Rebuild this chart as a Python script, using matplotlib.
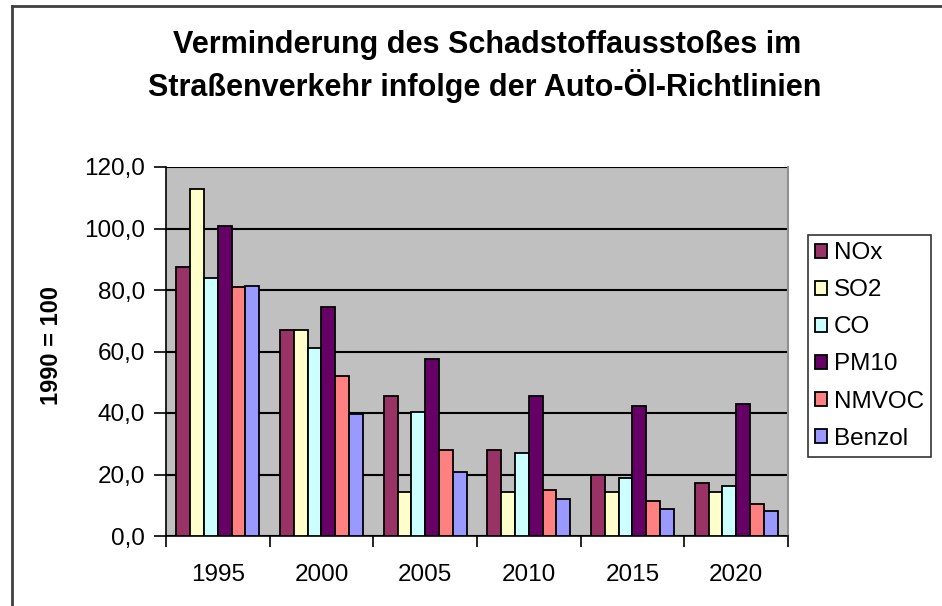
import numpy as np
import matplotlib
matplotlib.use('Agg')
import matplotlib.pyplot as plt
from matplotlib.lines import Line2D

plt.rcParams['font.family'] = ['Liberation Sans', 'DejaVu Sans']

# Daten (1990 = 100)
jahre = ['1995', '2000', '2005', '2010', '2015', '2020']
stoffe = ['NOx', 'SO2', 'CO', 'PM10', 'NMVOC', 'Benzol']
nox = [87.4, 67.0, 45.6, 28.1, 19.8, 17.1]
so2 = [112.7, 67.0, 14.4, 14.4, 14.4, 14.4]
co = [84.0, 61.1, 40.4, 26.9, 19.0, 16.3]
pm10 = [100.9, 74.4, 57.4, 45.6, 42.4, 43.0]
nmvoc = [80.9, 52.1, 28.1, 15.1, 11.3, 10.5]
benzol = [81.4, 39.7, 20.9, 11.9, 8.7, 8.1]
y_ticks = [0, 20, 40, 60, 80, 100, 120]

farben = ['#993366', '#FFFFCC', '#CCFFFF', '#660066', '#FF8080', '#9999FF']
reihen = [nox, so2, co, pm10, nmvoc, benzol]

fig = plt.figure(figsize=(9.42, 6.06), dpi=100)
ax = fig.add_axes([166/942, 1-536/606, (788-166)/942, (536-167)/606])
ax.set_facecolor('#C0C0C0')

x = np.arange(len(jahre))
b = 0.8/len(stoffe)
for i in range(len(stoffe)):
    ax.bar(x - 0.4 + b*(i+0.5), reihen[i], b, color=farben[i],
           edgecolor='black', linewidth=1.3, label=stoffe[i], zorder=3)

ax.set_xlim(-0.5, len(jahre)-0.5)
ax.set_ylim(0, 120)
ax.set_yticks(y_ticks)
ax.set_yticklabels([('%.1f' % v).replace('.', ',') for v in y_ticks])
ax.yaxis.grid(True, color='black', linewidth=1.5, zorder=1)
ax.set_axisbelow(True)

# x-Ticks zwischen den Kategorien, Beschriftung in der Mitte
ax.set_xticks(np.arange(-0.5, len(jahre), 1.0))
ax.set_xticklabels([])
ax.set_xticks(x, minor=True)
ax.set_xticklabels(jahre, minor=True)
ax.tick_params(axis='x', which='major', length=8, width=1.2, direction='out')
ax.tick_params(axis='x', which='minor', length=0, pad=20, labelsize=17.5)
ax.tick_params(axis='y', length=9, width=1.2, direction='out', pad=6, labelsize=17.5)

ax.spines['top'].set_visible(False)
ax.spines['right'].set_color('#909090')
ax.spines['right'].set_linewidth(1.5)
ax.spines['left'].set_linewidth(1.2)
ax.spines['bottom'].set_linewidth(1.2)

ax.set_ylabel('1990 = 100', fontsize=17, fontweight='bold')
ax.yaxis.set_label_coords(-0.165, 0.515)

fig.text(0.5 + 16/942, 1-45/606, 'Verminderung des Schadstoffausstoßes im',
         ha='center', va='center', fontsize=22, fontweight='bold')
fig.text(0.5 + 14/942, 1-86/606, 'Straßenverkehr infolge der Auto-Öl-Richtlinien',
         ha='center', va='center', fontsize=22, fontweight='bold')

leg = fig.legend(loc='upper left', bbox_to_anchor=(808/942, 1-235/606),
                 fontsize=17.5, frameon=True, fancybox=False, edgecolor='black',
                 handlelength=0.5, handleheight=0.5, handletextpad=0.25,
                 labelspacing=0.62, borderpad=0.3, borderaxespad=0)
leg.get_frame().set_linewidth(1.2)

# Rahmen des Diagramms
fig.add_artist(Line2D([12/942, 12/942], [0, 1-6/606], color='#404040', linewidth=2))
fig.add_artist(Line2D([12/942, 1], [1-6/606, 1-6/606], color='#404040', linewidth=2))

fig.savefig('out.png', dpi=100)
